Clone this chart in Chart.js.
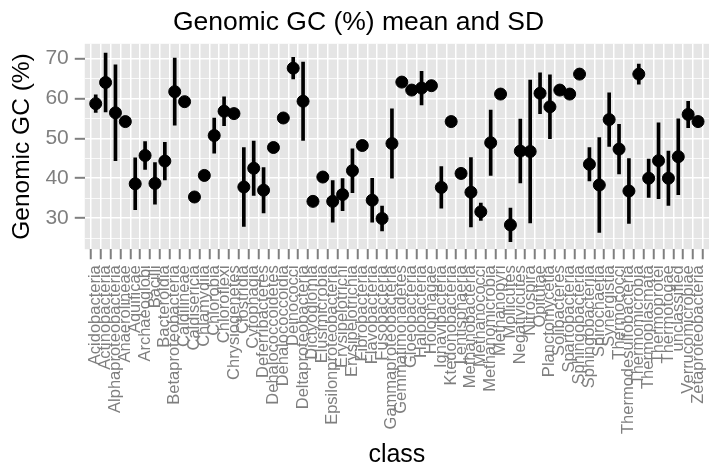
<!DOCTYPE html>
<html>
<head>
<meta charset="utf-8">
<script src="https://cdn.jsdelivr.net/npm/chart.js@4"></script>
<style>
  html, body { margin: 0; padding: 0; background: #fff; }
  #wrap { width: 728px; height: 471px; }
</style>
</head>
<body>
<div id="wrap"><canvas id="gcChart"></canvas></div>
<script>
// categories
const classes = ['Acidobacteria', 'Actinobacteria', 'Alphaproteobacteria', 'Anaerolineae', 'Aquificae',
    'Archaeoglobi', 'Bacilli', 'Bacteroidia', 'Betaproteobacteria', 'Caldilineae', 'Caldisericia',
    'Chlamydiia', 'Chlorobia', 'Chloroflexi', 'Chrysiogenetes', 'Clostridia', 'Cytophagia',
    'Deferribacteres', 'Dehalococcoidetes', 'Dehalococcoidia', 'Deinococci', 'Deltaproteobacteria',
    'Dictyoglomia', 'Elusimicrobia', 'Epsilonproteobacteria', 'Erysipelotrichi', 'Erysipelotrichia',
    'Fibrobacteria', 'Flavobacteria', 'Fusobacteria', 'Gammaproteobacteria', 'Gemmatimonadetes',
    'Gloeobacteria', 'Halobacteria', 'Holophagae', 'Ignavibacteria', 'Ktedonobacteria', 'Lentisphaeria',
    'Methanobacteria', 'Methanococci', 'Methanomicrobia', 'Methanopyri', 'Mollicutes', 'Negativicutes',
    'Nitrospira', 'Opitutae', 'Planctomycetia', 'Solibacteres', 'Spartobacteria', 'Sphingobacteria',
    'Sphingobacteriia', 'Spirochaetia', 'Synergistia', 'Thermococci', 'Thermodesulfobacteria',
    'Thermomicrobia', 'Thermoplasmata', 'Thermoprotei', 'Thermotogae', 'unclassified',
    'Verrucomicrobiae', 'Zetaproteobacteria'];

// mean GC (%) per class
const gcMean = [58.7, 64.0, 56.4, 54.2, 38.6, 45.7, 38.7, 44.3, 61.7, 59.2, 35.3,
    40.7, 50.7, 56.8, 56.2, 37.8, 42.5, 37.0, 47.7, 55.1, 67.6, 59.3,
    34.2, 40.3, 34.2, 35.9, 41.9, 48.2, 34.5, 29.9, 48.7, 64.1,
    62.1, 62.6, 63.2, 37.7, 54.2, 41.2, 36.5, 31.6, 48.9, 61.1, 28.3, 46.8,
    46.7, 61.3, 57.9, 62.1, 61.1, 66.1, 43.5, 38.3, 54.7, 47.3, 36.8,
    66.1, 40.0, 44.4, 40.0, 45.4, 56.0, 54.2];

// standard deviation (0 = single genome, no bar)
const gcSd = [2.2, 7.4, 12.0, 0, 6.5, 3.5, 5.2, 4.7, 8.4, 0, 0,
    0, 4.4, 3.6, 0, 9.9, 6.8, 5.7, 0, 0, 2.7, 9.8,
    0, 0, 5.2, 4.0, 5.5, 0, 5.5, 3.1, 8.7, 0,
    0, 4.2, 0, 5.2, 0, 0, 8.7, 2.2, 8.2, 0, 4.2, 8.0,
    17.9, 5.1, 8.0, 0, 0, 0, 4.2, 11.9, 6.7, 6.2, 8.1,
    2.5, 4.8, 9.5, 6.8, 9.5, 3.3, 0];

const yTicks = [25, 30, 35, 40, 45, 50, 55, 60, 65, 70];

const FONT = "'Liberation Sans', Arial, Helvetica, sans-serif";

const meanPoints = classes.map((c, i) => ({ x: i, y: gcMean[i] }));
const sdBars = [];
classes.forEach((c, i) => {
    if (gcSd[i] > 0) sdBars.push({ x: i, y: [gcMean[i] - gcSd[i], gcMean[i] + gcSd[i]] });
});

// grey ggplot-style panel behind the data
const panelBg = {
    id: 'panelBg',
    beforeDraw(chart) {
        const a = chart.chartArea;
        const ctx = chart.ctx;
        ctx.save();
        ctx.fillStyle = '#e5e5e5';
        ctx.fillRect(a.left, a.top, a.right - a.left, a.bottom - a.top);
        ctx.restore();
    }
};

const ctx = document.getElementById('gcChart').getContext('2d');
const gcChart = new Chart(ctx, {
    type: 'scatter',
    data: {
        datasets: [{
            type: 'scatter',
            data: meanPoints,
            backgroundColor: '#000',
            borderColor: '#000',
            pointRadius: 6,
            order: 0
        }, {
            type: 'bar',
            data: sdBars,
            backgroundColor: '#000',
            barThickness: 3,
            order: 1
        }]
    },
    options: {
        responsive: true,
        maintainAspectRatio: false,
        animation: false,
        layout: { padding: { left: 8, right: 19, top: 0, bottom: 1 } },
        plugins: {
            legend: { display: false },
            tooltip: { enabled: false },
            title: {
                display: true,
                text: 'Genomic GC (%) mean and SD',
                color: '#000',
                font: { family: FONT, size: 26.5, weight: 'normal' },
                padding: { top: 7, bottom: 5 }
            }
        },
        scales: {
            x: {
                type: 'linear',
                min: -0.6,
                max: classes.length - 0.4,
                afterBuildTicks: (scale) => {
                    scale.ticks = classes.map((c, i) => ({ value: i }));
                },
                border: { display: false },
                grid: {
                    color: '#fff',
                    lineWidth: 1.5,
                    tickColor: '#7f7f7f',
                    tickLength: 10,
                    tickWidth: 2
                },
                ticks: {
                    autoSkip: false,
                    maxRotation: 90,
                    minRotation: 90,
                    padding: 6,
                    color: '#7f7f7f',
                    font: { family: FONT, size: 16.5 },
                    callback: (v) => classes[v]
                },
                title: {
                    display: true,
                    text: 'class',
                    color: '#000',
                    font: { family: FONT, size: 25 },
                    padding: { top: 0, bottom: 0 }
                }
            },
            y: {
                min: 22.2,
                max: 73.7,
                afterBuildTicks: (scale) => {
                    scale.ticks = yTicks.map(v => ({ value: v }));
                },
                border: { display: false },
                grid: {
                    color: '#fff',
                    lineWidth: (c) => (c.tick && c.tick.value % 10 === 0) ? 1.6 : 0.8,
                    tickColor: (c) => (c.tick && c.tick.value % 10 === 0) ? '#7f7f7f' : 'rgba(0,0,0,0)',
                    tickLength: 10,
                    tickWidth: 2
                },
                ticks: {
                    autoSkip: false,
                    padding: 6,
                    color: '#7f7f7f',
                    font: { family: FONT, size: 21 },
                    callback: (v) => (v % 10 === 0) ? v : ''
                },
                title: {
                    display: true,
                    text: 'Genomic GC (%)',
                    color: '#000',
                    font: { family: FONT, size: 24.5 },
                    padding: { top: 0, bottom: 2 }
                }
            }
        }
    },
    plugins: [panelBg]
});
</script>
</body>
</html>
